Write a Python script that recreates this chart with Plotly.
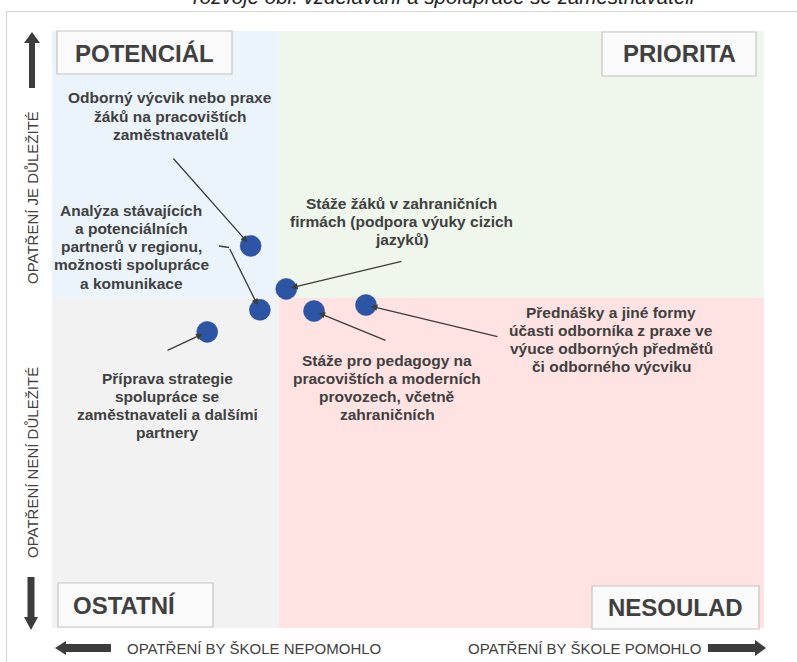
import plotly.graph_objects as go

# ---------------- data ----------------
measures = [
    "Odborný výcvik nebo praxe žáků na pracovištích zaměstnavatelů",
    "Stáže žáků v zahraničních firmách (podpora výuky cizich jazyků)",
    "Analýza stávajících a potenciálních partnerů v regionu, možnosti spolupráce a komunikace",
    "Příprava strategie spolupráce se zaměstnavateli a dalšími partnery",
    "Stáže pro pedagogy na pracovištích a moderních provozech, včetně zahraničních",
    "Přednášky a jiné formy účasti odborníka z praxe ve výuce odborných předmětů či odborného výcviku",
]
benefit = [27.9, 32.9, 29.2, 21.8, 36.8, 44.1]      # x: would the measure help the school
importance = [64.0, 56.8, 53.3, 49.6, 53.1, 54.1]   # y: is the measure important
x_split = 31.9
y_split = 55.3
quadrant_names = ["POTENCIÁL", "PRIORITA", "OSTATNÍ", "NESOULAD"]
axis_texts = ["OPATŘENÍ JE DŮLEŽITÉ", "OPATŘENÍ NENÍ DŮLEŽITÉ",
              "OPATŘENÍ BY ŠKOLE NEPOMOHLO", "OPATŘENÍ BY ŠKOLE POMOHLO"]
label_lines = [
    ["Odborný výcvik nebo praxe", "žáků na pracovištích", "zaměstnavatelů"],
    ["Stáže žáků v zahraničních", "firmách (podpora výuky cizich", "jazyků)"],
    ["Analýza stávajících", "a potenciálních", "partnerů v regionu,", "možnosti spolupráce", "a komunikace"],
    ["Příprava strategie", "spolupráce se", "zaměstnavateli a dalšími", "partnery"],
    ["Stáže pro pedagogy na", "pracovištích a moderních", "provozech, včetně", "zahraničních"],
    ["Přednášky a jiné formy", "účasti odborníka z praxe ve", "výuce odborných předmětů", "či odborného výcviku"],
]
title_text = "rozvoje obl. vzdělávání a spolupráce se zaměstnavateli"

# ---------------- layout helpers ----------------
W, H = 797, 662
L, R, T, B = 52, 764, 31, 628


def px(x):
    return x / W


def py(y):
    return 1 - y / H


def dx(x):  # pixel -> data x
    return (x - L) / (R - L) * 100


def dy(y):  # pixel -> data y
    return (B - y) / (B - T) * 100


TXT = "#404040"
DARK = "#3c3c3c"
FONT = "Liberation Sans, Arial, sans-serif"

fig = go.Figure()

fig.add_trace(go.Scatter(
    x=benefit, y=importance, mode="markers", text=measures, hoverinfo="text",
    marker=dict(size=21, color="#2D55A6", line=dict(width=0.5, color="#23448a")),
    showlegend=False,
))

shapes = []
# quadrant backgrounds
quad = [
    (0, x_split, y_split, 100, "#EBF3FB"),
    (x_split, 100, y_split, 100, "#EFF6EC"),
    (0, x_split, 0, y_split, "#F2F2F2"),
    (x_split, 100, 0, y_split, "#FFE3E3"),
]
for x0, x1, y0, y1, c in quad:
    shapes.append(dict(type="rect", xref="x", yref="y", x0=x0, x1=x1, y0=y0, y1=y1,
                       fillcolor=c, line=dict(width=0), layer="below"))

# outer frame
shapes.append(dict(type="line", xref="paper", yref="paper", x0=px(6), x1=px(800),
                   y0=py(11.5), y1=py(11.5), line=dict(color="#D6D6D6", width=1.2)))
shapes.append(dict(type="line", xref="paper", yref="paper", x0=px(6.5), x1=px(6.5),
                   y0=py(11), y1=py(670), line=dict(color="#D6D6D6", width=1.2)))

# quadrant name boxes
boxes = [(57, 31, 232, 74), (602, 32, 756, 76), (58, 583, 213, 627), (592, 586, 759, 629)]
for (x0, y0, x1, y1), name in zip(boxes, quadrant_names):
    shapes.append(dict(type="rect", xref="paper", yref="paper", x0=px(x0), x1=px(x1),
                       y0=py(y1), y1=py(y0), fillcolor="#FAFAFA",
                       line=dict(color="#C4C4C4", width=1.2)))


def poly(pts):
    s = "M " + " L ".join(f"{px(a):.5f},{py(b):.5f}" for a, b in pts) + " Z"
    return dict(type="path", xref="paper", yref="paper", path=s,
                fillcolor=DARK, line=dict(width=0))


# big arrows
shapes.append(poly([(32, 32), (40, 43), (35, 43), (35, 88), (29, 88), (29, 43), (24, 43)]))
shapes.append(poly([(31, 630), (38, 617), (34.5, 617), (34.5, 577), (27.5, 577), (27.5, 617), (24, 617)]))
shapes.append(poly([(55, 648), (66, 641), (66, 644), (111, 644), (111, 652), (66, 652), (66, 655)]))
shapes.append(poly([(766, 648), (755, 640), (755, 644), (708, 644), (708, 652), (755, 652), (755, 656)]))

# bent part of a leader line
shapes.append(dict(type="line", xref="paper", yref="paper", x0=px(219), x1=px(229),
                   y0=py(246), y1=py(247.5), line=dict(color=DARK, width=1.3)))

annotations = []
# quadrant names
name_pos = [(144, 53), (679, 54), (124, 605), (675, 607)]
for (x, y), name in zip(name_pos, quadrant_names):
    annotations.append(dict(xref="paper", yref="paper", x=px(x), y=py(y), text=f"<b>{name}</b>",
                            showarrow=False, xanchor="center", yanchor="middle",
                            font=dict(family=FONT, size=24, color=TXT)))

# axis side labels
AX = dict(family=FONT, size=15, color=TXT)
annotations.append(dict(xref="paper", yref="paper", x=px(32), y=py(198), text=axis_texts[0],
                        textangle=-90, showarrow=False, xanchor="center", yanchor="middle", font=AX))
annotations.append(dict(xref="paper", yref="paper", x=px(32), y=py(463), text=axis_texts[1],
                        textangle=-90, showarrow=False, xanchor="center", yanchor="middle", font=AX))
annotations.append(dict(xref="paper", yref="paper", x=px(254), y=py(648), text=axis_texts[2],
                        showarrow=False, xanchor="center", yanchor="middle", font=AX))
annotations.append(dict(xref="paper", yref="paper", x=px(584), y=py(648), text=axis_texts[3],
                        showarrow=False, xanchor="center", yanchor="middle", font=AX))

# clipped title at the very top
annotations.append(dict(xref="paper", yref="paper", x=px(444), y=py(10), text=f"<i>{title_text}</i>",
                        showarrow=False, xanchor="center", yanchor="bottom",
                        font=dict(family=FONT, size=20.5, color="#222222")))

# measure labels: center x and y of first line, line step 18.3 px
label_pos = [(170, 98), (402, 203), (131, 210), (167, 378), (387, 360), (611, 312)]
for (x, y), lines in zip(label_pos, label_lines):
    for i, line in enumerate(lines):
        annotations.append(dict(xref="paper", yref="paper", x=px(x), y=py(y + i * 18.3),
                                text=f"<b>{line}</b>", showarrow=False,
                                xanchor="center", yanchor="middle",
                                font=dict(family=FONT, size=15.5, color=TXT)))

# leader lines: tail pixel positions, arrow to the data point
tails = [(172, 157), (403, 261), (229, 247.5), (166, 351), (387, 341), (499, 337)]
for (tx, ty), xv, yv in zip(tails, benefit, importance):
    annotations.append(dict(x=xv, y=yv, xref="x", yref="y", ax=dx(tx), ay=dy(ty),
                            axref="x", ayref="y", text="", showarrow=True,
                            arrowhead=2, arrowsize=1, arrowwidth=1.3, arrowcolor=DARK,
                            standoff=5))

fig.update_layout(
    width=W, height=H, margin=dict(l=0, r=0, t=0, b=0),
    paper_bgcolor="white", plot_bgcolor="white",
    xaxis=dict(range=[0, 100], domain=[L / W, R / W], visible=False, fixedrange=True),
    yaxis=dict(range=[0, 100], domain=[1 - B / H, 1 - T / H], visible=False, fixedrange=True),
    shapes=shapes, annotations=annotations,
)

fig.write_html("out.html", config={"displayModeBar": False},
               post_script="document.body.style.margin='0';")
